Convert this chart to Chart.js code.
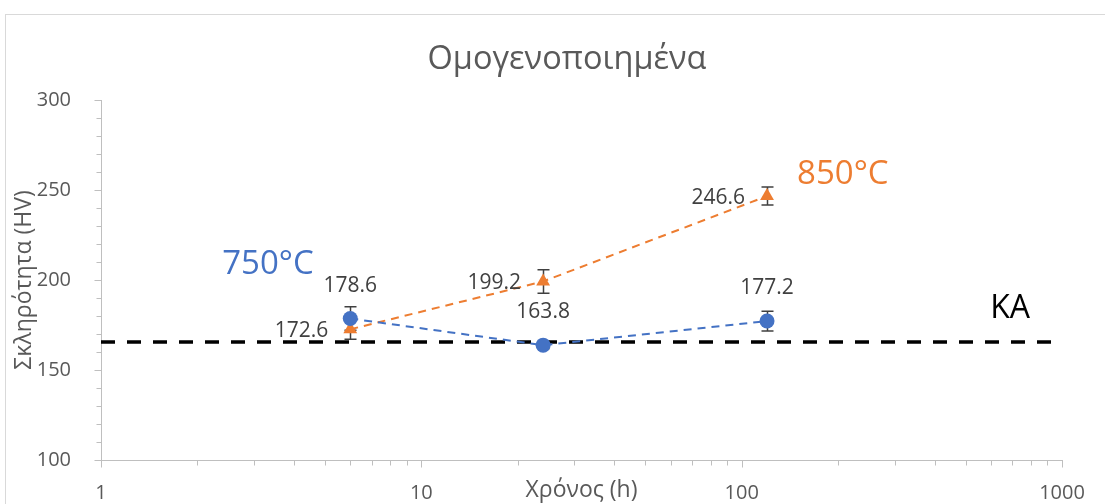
<!DOCTYPE html>
<html>
<head>
<meta charset="utf-8">
<script src="https://cdn.jsdelivr.net/npm/chart.js@4.4.1/dist/chart.umd.min.js"></script>
<style>
  html, body { margin: 0; padding: 0; background: #ffffff; }
  #wrap { width: 1105px; height: 504px; position: relative; }
</style>
</head>
<body>
<div id="wrap"><canvas id="c" width="1105" height="504"></canvas></div>
<script>
// Annealing times (h) and hardness readings
const times = [6, 24, 120];
const hard750 = [178.6, 163.8, 177.2];
const err750 = [6.5, 2, 5.5];
const hard850 = [172.6, 199.2, 246.6];
const err850 = [5.5, 6.5, 5];
// As-cast reference hardness (KA)
const kaLevel = 165.5;
const kaSpan = [1, 1000];
const xTicks = [1, 10, 100, 1000];

const FONT = '"Open Sans", "DejaVu Sans", sans-serif';
const BLUE = '#4472C4';
const ORANGE = '#ED7D31';
const GREY = '#595959';
const LABEL = '#404040';
const AXIS = '#bfbfbf';

const pts = (xs, ys) => xs.map((x, i) => ({ x: x, y: ys[i] }));

// Frame, title, error bars, value labels, series captions and minor ticks
const decor = {
  id: 'decor',
  beforeDraw(chart) {
    const ctx = chart.ctx;
    ctx.save();
    ctx.fillStyle = '#ffffff';
    ctx.fillRect(0, 0, chart.width, chart.height);
    ctx.strokeStyle = '#d9d9d9';
    ctx.lineWidth = 1;
    ctx.strokeRect(5.5, 14.5, chart.width + 20, chart.height + 20);
    ctx.font = '32.5px ' + FONT;
    ctx.fillStyle = GREY;
    ctx.textAlign = 'center';
    ctx.textBaseline = 'middle';
    ctx.fillText('Ομογενοποιημένα', 567, 60);
    ctx.restore();
  },
  beforeDatasetsDraw(chart) {
    const ctx = chart.ctx;
    const ys = chart.scales.y;
    const errs = [err750, err850];
    ctx.save();
    ctx.strokeStyle = '#404040';
    ctx.lineWidth = 1.5;
    [0, 1].forEach(di => {
      const meta = chart.getDatasetMeta(di);
      const vals = chart.data.datasets[di].data;
      meta.data.forEach((el, i) => {
        const x = Math.round(el.x) + 0.5;
        const top = ys.getPixelForValue(vals[i].y + errs[di][i]);
        const bot = ys.getPixelForValue(vals[i].y - errs[di][i]);
        ctx.beginPath();
        ctx.moveTo(x, top); ctx.lineTo(x, bot);
        ctx.moveTo(x - 6, top); ctx.lineTo(x + 6, top);
        ctx.moveTo(x - 6, bot); ctx.lineTo(x + 6, bot);
        ctx.stroke();
      });
    });
    ctx.restore();
  },
  afterDatasetsDraw(chart) {
    const ctx = chart.ctx;
    const xs = chart.scales.x, ys = chart.scales.y;
    ctx.save();
    ctx.font = '21px ' + FONT;
    ctx.fillStyle = LABEL;
    ctx.textBaseline = 'middle';
    // 750°C values above the markers
    ctx.textAlign = 'center';
    chart.getDatasetMeta(0).data.forEach((el, i) => {
      ctx.fillText(hard750[i].toFixed(1), el.x, el.y - 33);
    });
    // 850°C values to the left of the markers
    ctx.textAlign = 'right';
    chart.getDatasetMeta(1).data.forEach((el, i) => {
      ctx.fillText(hard850[i].toFixed(1), el.x - 22, el.y + 2);
    });
    // Series captions
    ctx.font = '33px ' + FONT;
    ctx.textAlign = 'center';
    ctx.fillStyle = BLUE;
    ctx.fillText('750°C', xs.getPixelForValue(3.32), ys.getPixelForValue(208.3));
    ctx.fillStyle = ORANGE;
    ctx.fillText('850°C', xs.getPixelForValue(207), ys.getPixelForValue(258.3));
    ctx.font = '32px ' + FONT;
    ctx.fillStyle = '#000000';
    ctx.fillText('KA', xs.getPixelForValue(689), ys.getPixelForValue(184));
    ctx.restore();
  },
  afterDraw(chart) {
    const ctx = chart.ctx;
    const xs = chart.scales.x, ys = chart.scales.y;
    ctx.save();
    ctx.strokeStyle = AXIS;
    ctx.lineWidth = 1;
    // x axis ticks, major and minor per decade
    const yb = Math.round(ys.bottom) + 0.5;
    for (let d = 1; d <= 1000; d *= 10) {
      for (let m = 1; m <= 9; m++) {
        const v = d * m;
        if (v > 1000) break;
        const px = Math.round(xs.getPixelForValue(v)) + 0.5;
        const len = m === 1 ? 7 : 5;
        ctx.beginPath(); ctx.moveTo(px, yb); ctx.lineTo(px, yb + len); ctx.stroke();
      }
    }
    // y axis ticks every 10, major every 50
    const xl = Math.round(xs.left) + 0.5;
    for (let v = 100; v <= 300; v += 10) {
      const py = Math.round(ys.getPixelForValue(v)) + 0.5;
      const len = v % 50 === 0 ? 7 : 5;
      ctx.beginPath(); ctx.moveTo(xl, py); ctx.lineTo(xl - len, py); ctx.stroke();
    }
    ctx.restore();
  }
};

new Chart(document.getElementById('c'), {
  type: 'scatter',
  data: {
    datasets: [
      {
        label: '750°C',
        data: pts(times, hard750),
        showLine: true,
        borderColor: BLUE,
        backgroundColor: BLUE,
        borderWidth: 2,
        borderDash: [8, 6],
        pointStyle: 'circle',
        pointRadius: 7.5,
        pointBorderWidth: 0,
        order: 1
      },
      {
        label: '850°C',
        data: pts(times, hard850),
        showLine: true,
        borderColor: ORANGE,
        backgroundColor: ORANGE,
        borderWidth: 2,
        borderDash: [8, 6],
        pointStyle: 'triangle',
        pointRadius: 8,
        pointBorderWidth: 0,
        order: 2
      },
      {
        label: 'KA',
        data: kaSpan.map(x => ({ x: x, y: kaLevel })),
        showLine: true,
        borderColor: '#000000',
        borderWidth: 3.5,
        borderDash: [14, 12],
        pointRadius: 0,
        order: 3
      }
    ]
  },
  options: {
    responsive: false,
    animation: false,
    layout: { padding: { left: 0, right: 43, top: 100, bottom: 0 } },
    plugins: {
      legend: { display: false },
      tooltip: { enabled: false },
      title: { display: false }
    },
    scales: {
      x: {
        type: 'logarithmic',
        min: 1,
        max: 1000,
        afterBuildTicks(scale) {
          scale.ticks = xTicks.map(v => ({ value: v, major: true }));
        },
        afterFit(scale) { scale.height = 44; },
        grid: { display: false },
        border: { display: true, color: AXIS, width: 1 },
        ticks: {
          color: GREY,
          font: { family: FONT, size: 20 },
          padding: 13,
          maxRotation: 0,
          autoSkip: false,
          callback: v => String(v)
        },
        title: {
          display: true,
          text: 'Χρόνος (h)',
          color: GREY,
          font: { family: FONT, size: 23 },
          padding: 0
        }
      },
      y: {
        type: 'linear',
        min: 100,
        max: 300,
        afterFit(scale) { scale.width = 101; },
        grid: { display: false },
        border: { display: true, color: AXIS, width: 1 },
        ticks: {
          stepSize: 50,
          color: GREY,
          font: { family: FONT, size: 20 },
          padding: 22
        },
        title: {
          display: true,
          text: 'Σκληρότητα (HV)',
          color: GREY,
          font: { family: FONT, size: 23 },
          padding: { top: 11, bottom: 0 }
        }
      }
    }
  },
  plugins: [decor]
});
</script>
</body>
</html>
